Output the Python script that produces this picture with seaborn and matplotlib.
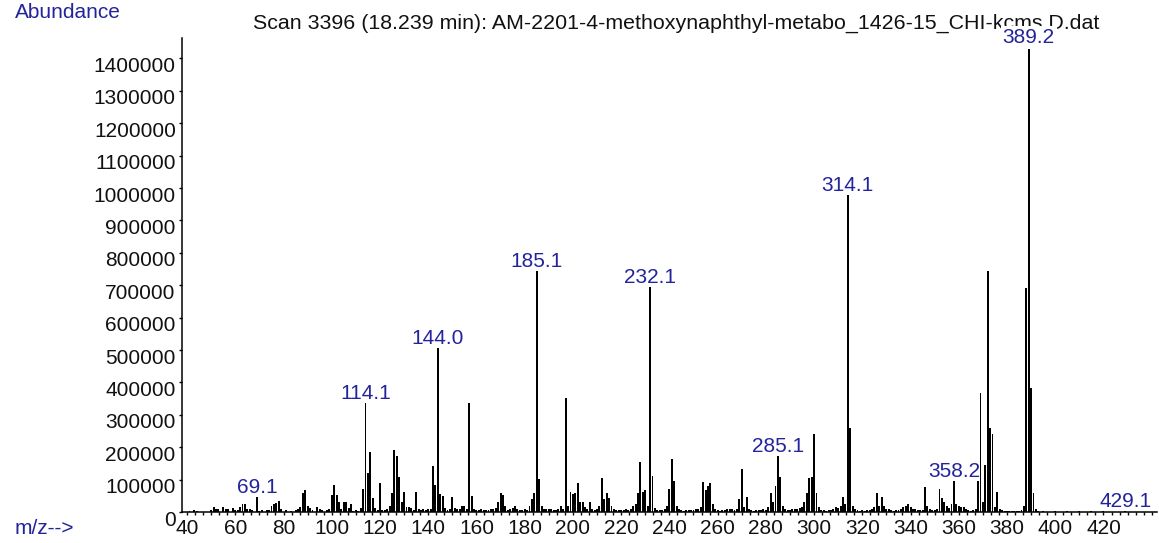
import matplotlib
matplotlib.use('Agg')
import matplotlib.pyplot as plt
import matplotlib.transforms as mtransforms
from matplotlib.ticker import MultipleLocator, FixedLocator
import pandas as pd
import seaborn as sns

# peak list (m/z, abundance in thousands)
mz_low = [41, 43, 44, 50, 51, 52, 53, 55, 56, 57, 59, 60, 61, 62, 63, 64, 65, 66, 67, 69,
          70, 71, 73, 74, 75, 76, 77, 78, 79, 81, 83, 85, 86, 87, 88, 89, 90, 91, 92, 94,
          95, 96, 98, 99, 100, 101, 102, 103, 104, 105, 106, 107, 108, 109, 110, 111, 112,
          113, 114, 115, 116, 117, 118, 119, 120, 121, 122, 123, 124]
ab_low = [4, 6, 3, 5, 16, 10, 8, 16, 10, 8, 12, 5, 6, 14, 26, 24, 10, 10, 5, 47,
          4, 5, 6, 5, 18, 26, 29, 34, 8, 5, 4, 5, 8, 15, 58, 68, 20, 12, 5, 16,
          8, 6, 5, 8, 53, 84, 53, 30, 8, 32, 30, 12, 26, 4, 5, 4, 12,
          72, 337, 121, 184, 42, 12, 5, 90, 6, 5, 8, 20]

mz_mid = list(range(125, 244))
ab_mid = [58, 192, 174, 107, 30, 63, 15, 15, 12, 6, 63, 8, 5, 10, 6, 10, 8, 142, 84, 505,
          55, 50, 12, 6, 10, 47, 12, 10, 8, 18, 20, 8, 335, 50, 8, 5, 6, 8, 5, 6,
          5, 8, 10, 12, 30, 58, 52, 20, 6, 8, 12, 18, 10, 5, 6, 8, 6, 20, 40, 58,
          745, 103, 20, 8, 10, 8, 8, 6, 5, 8, 20, 10, 351, 20, 63, 55, 60, 90, 30, 30,
          15, 8, 32, 10, 6, 8, 20, 105, 40, 58, 42, 20, 8, 5, 6, 5, 6, 8, 6, 10,
          20, 25, 58, 153, 63, 68, 20, 693, 112, 12, 6, 5, 6, 10, 20, 70, 165, 95, 20]

mz_high = list(range(244, 394))
ab_high = [8, 5, 4, 5, 5, 6, 5, 8, 10, 15, 92, 68, 80, 88, 25, 8, 5, 4, 5, 6,
           8, 8, 8, 5, 10, 40, 132, 15, 45, 10, 5, 4, 5, 5, 6, 8, 6, 15, 60, 30,
           80, 174, 108, 20, 10, 5, 6, 8, 10, 8, 12, 15, 30, 58, 105, 108, 240, 58, 15, 6,
           5, 4, 5, 6, 8, 15, 12, 18, 47, 25, 978, 260, 20, 8, 5, 4, 5, 4, 5, 6,
           10, 15, 58, 20, 45, 20, 10, 8, 5, 4, 5, 6, 8, 15, 20, 25, 15, 10, 8, 5,
           5, 6, 78, 20, 8, 5, 6, 10, 72, 42, 30, 20, 12, 25, 95, 25, 20, 15, 15, 8,
           5, 4, 5, 10, 95, 366, 30, 144, 745, 258, 240, 15, 63, 10, 5, 4, 4, 3, 3, 4,
           3, 4, 5, 20, 691, 1436, 382, 58, 8, 4]

mz_tail = [395, 400, 405, 410, 415, 420, 429]
ab_tail = [3, 3, 2, 2, 3, 2, 3]

peak_labels = ['69.1', '114.1', '144.0', '185.1', '232.1', '285.1', '314.1', '358.2', '389.2', '429.1']
label_mz = [69, 114, 144, 185, 232, 285, 314, 358, 389, 429]

title = 'Scan 3396 (18.239 min): AM-2201-4-methoxynaphthyl-metabo_1426-15_CHI-kcms.D.dat'

df = pd.DataFrame({
    'mz': mz_low + mz_mid + mz_high + mz_tail,
    'abundance': [a * 1000 for a in ab_low + ab_mid + ab_high + ab_tail],
})

sns.set_style('ticks')
plt.rcParams['font.family'] = ['Liberation Sans', 'DejaVu Sans']
blue = '#23239b'
fs = 15

fig, ax = plt.subplots(figsize=(11.59, 5.43), dpi=100)
fig.subplots_adjust(left=182 / 1159, right=1157 / 1159, bottom=31 / 543, top=505 / 543)

sns.histplot(data=df, x='mz', weights='abundance', discrete=True, shrink=0.8,
             color='black', alpha=1, linewidth=0, ax=ax)

ax.set_xlim(37.9, 442.2)
ax.set_ylim(0, 1463000)
ax.set_xlabel('')
ax.set_ylabel('')
sns.despine(ax=ax)
for s in ['left', 'bottom']:
    ax.spines[s].set_linewidth(1.1)
    ax.spines[s].set_color('black')

ax.xaxis.set_major_locator(FixedLocator(range(40, 421, 20)))
ax.xaxis.set_minor_locator(MultipleLocator(20 / 6))
ax.set_yticks(range(0, 1400001, 100000))
ax.set_yticklabels([str(v) for v in range(0, 1400001, 100000)])
ax.tick_params(axis='x', which='both', length=2.5, width=1, color='black', pad=2.5,
               labelsize=fs, labelcolor='#111111')
ax.tick_params(axis='y', length=2.5, width=1, color='black', pad=2,
               labelsize=fs, labelcolor='#111111')
shift = mtransforms.ScaledTranslation(0, -6 / 100, fig.dpi_scale_trans)
for lab in ax.get_yticklabels():
    lab.set_transform(lab.get_transform() + shift)

heights = df.groupby('mz')['abundance'].sum()
for txt, m in zip(peak_labels, label_mz):
    box = dict(facecolor='white', edgecolor='none', pad=1.5) if txt == '389.2' else None
    ax.annotate(txt, xy=(m, heights[m]), xytext=(0, 0), textcoords='offset points',
                ha='center', va='bottom', color=blue, fontsize=fs, bbox=box,
                annotation_clip=False, zorder=6)

ax.text(253 / 1159, 1 - 23 / 543, title, transform=fig.transFigure, ha='left',
        va='center', fontsize=15.4, color='#111111', zorder=1, clip_on=False)
fig.text(15 / 1159, 1 - 12 / 543, 'Abundance', color=blue, fontsize=fs, va='center')
fig.text(15 / 1159, 1 - 529 / 543, 'm/z-->', color=blue, fontsize=fs, va='center')

fig.savefig('out.png', dpi=100)
